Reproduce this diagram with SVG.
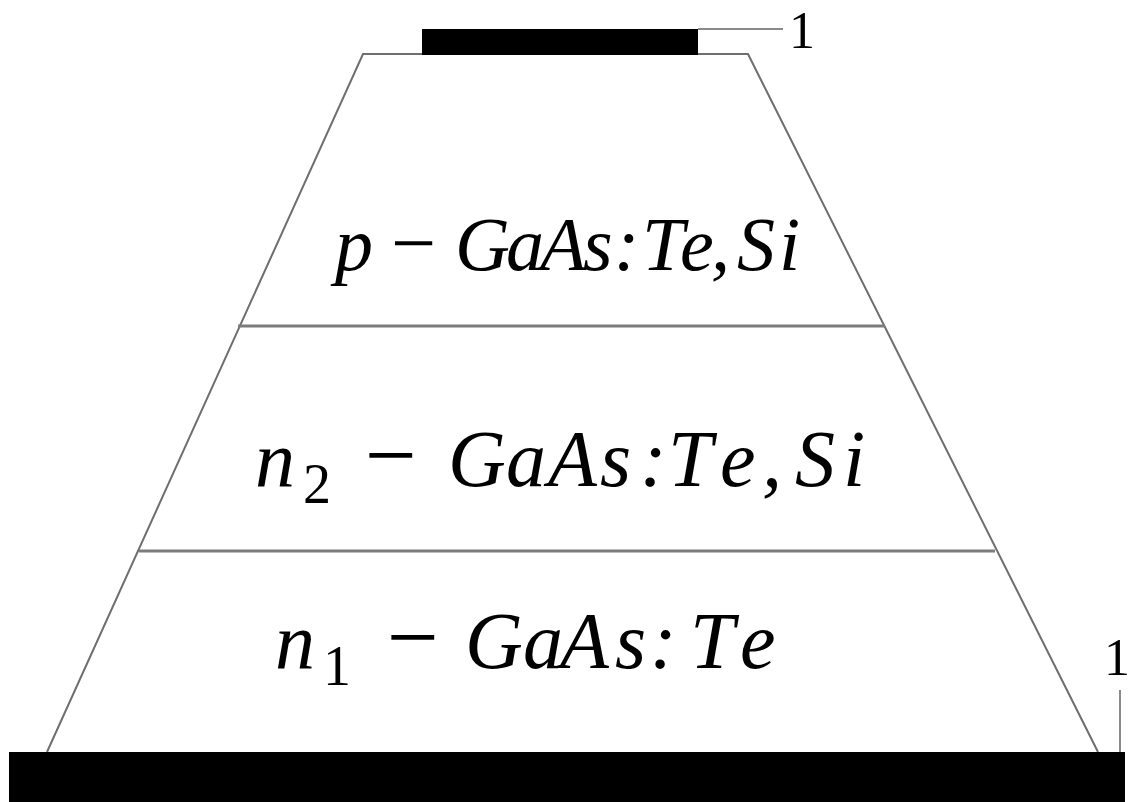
<svg xmlns="http://www.w3.org/2000/svg" width="1128" height="802" viewBox="0 0 1128 802">
<style>
.edge{fill:none;stroke:#6e6e6e;stroke-width:2}
.layer{fill:none;stroke:#7c7c7c;stroke-width:3}
.lead{fill:none;stroke:#8a8a8a;stroke-width:2}
.contact{fill:#000}
.lbl{font-family:"Liberation Serif","DejaVu Serif",serif;fill:#000}
.it{font-style:italic}
.up{font-style:normal}
</style>
<rect width="1128" height="802" fill="#fff"/>
<g id="body">
<polyline class="edge" points="47,752 363,54 748,54 1098,752"/>
<line class="layer" x1="238" y1="326" x2="885" y2="326"/>
<line class="layer" x1="139" y1="551" x2="995" y2="551"/>
</g>
<g id="layer-p">
<text class="lbl" y="270" font-size="76"><tspan class="it" x="335">p</tspan><tspan class="up" x="391" font-size="80">−</tspan><tspan class="it" x="455 506 540 583 614 642 680 711 737 779">GaAs:Te,Si</tspan></text>
</g>
<g id="layer-n2">
<text class="lbl" y="486" font-size="80"><tspan class="it" x="255">n</tspan><tspan class="up" x="303" y="503" font-size="56">2</tspan><tspan class="up" x="365" y="486" font-size="92">−</tspan><tspan class="it" x="448 506 548 600 640 668 720 762 795 843">GaAs:Te,Si</tspan></text>
</g>
<g id="layer-n1">
<text class="lbl" y="668" font-size="80"><tspan class="it" x="275">n</tspan><tspan class="up" x="323" y="685" font-size="56">1</tspan><tspan class="up" x="387" y="668" font-size="92">−</tspan><tspan class="it" x="465 523 560 615 650 690 740">GaAs:Te</tspan></text>
</g>
<g id="contact-top">
<rect class="contact" x="422" y="29" width="276" height="26"/>
</g>
<g id="contact-bottom">
<rect class="contact" x="9" y="752" width="1116" height="50"/>
</g>
<g id="connectors">
<line class="lead" x1="698" y1="29" x2="783" y2="29"/>
<line class="lead" x1="1120" y1="690" x2="1120" y2="752"/>
</g>
<g id="label-top">
<text class="lbl" x="789" y="48" font-size="52">1</text>
</g>
<g id="label-bottom">
<text class="lbl" x="1104" y="675" font-size="52">1</text>
</g>
</svg>
